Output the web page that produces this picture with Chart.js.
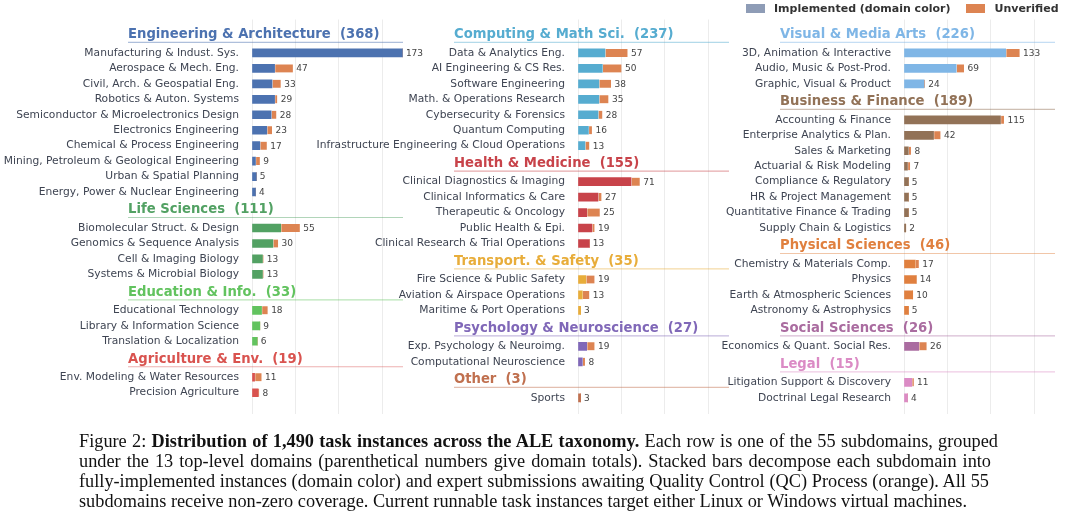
<!DOCTYPE html>
<html>
<head>
<meta charset="utf-8">
<script src="https://cdn.jsdelivr.net/npm/chart.js@4.4.1/dist/chart.umd.min.js"></script>
<style>
  body { margin: 0; background: #fff; width: 1080px; height: 520px; overflow: hidden; position: relative; font-family: 'DejaVu Sans', sans-serif; }
  canvas { position: absolute; top: 0; }
  #legend { position: absolute; top: 2px; left: 746px; font: bold 11px 'DejaVu Sans'; color: #333; white-space: nowrap; }
  #legend span.box { display: inline-block; width: 19px; height: 9px; vertical-align: -1px; margin-right: 9px; }
  #caption { position: absolute; left: 79px; top: 430.5px; font-family: 'Liberation Serif', serif; font-size: 18.3px; line-height: 20.3px; color: #111; }
  #caption div { white-space: nowrap; }
  #caption div.j { white-space: normal; text-align: justify; text-align-last: justify; }
</style>
</head>
<body>
<canvas id="col0" width="428" height="440"></canvas>
<canvas id="col1" width="448" height="440"></canvas>
<canvas id="col2" width="448" height="440"></canvas>
<div id="legend"><span class="box" style="background:#8e9cb6"></span>Implemented (domain color)<span class="box" style="background:#dd8452;margin-left:16px"></span>Unverified</div>
<div id="caption">
  <div class="j" style="width:919px">Figure 2: <b>Distribution of 1,490 task instances across the ALE taxonomy.</b> Each row is one of the 55 subdomains, grouped</div>
  <div class="j" style="width:912px">under the 13 top-level domains (parenthetical numbers give domain totals). Stacked bars decompose each subdomain into</div>
  <div class="j" style="width:910px">fully-implemented instances (domain color) and expert submissions awaiting Quality Control (QC) Process (orange). All 55</div>
  <div>subdomains receive non-zero coverage. Current runnable task instances target either Linux or Windows virtual machines.</div>
</div>
<script>
// top-level domains and their colours
var domains = ['Engineering & Architecture', 'Life Sciences', 'Education & Info.', 'Agriculture & Env.',
  'Computing & Math Sci.', 'Health & Medicine', 'Transport. & Safety', 'Psychology & Neuroscience', 'Other',
  'Visual & Media Arts', 'Business & Finance', 'Physical Sciences', 'Social Sciences', 'Legal'];
var domainColors = ['#4c72b0', '#52a163', '#62c35f', '#d9534f',
  '#56acd0', '#c8434a', '#e8ad3a', '#8068b8', '#c0704f',
  '#7fb6e6', '#927257', '#e0803f', '#aa6ca0', '#db8bc5'];
var columnDomains = [[0, 1, 2, 3], [4, 5, 6, 7, 8], [9, 10, 11, 12, 13]];

// subdomains
var subdomains = [
  'Manufacturing & Indust. Sys.', 'Aerospace & Mech. Eng.', 'Civil, Arch. & Geospatial Eng.', 'Robotics & Auton. Systems',
  'Semiconductor & Microelectronics Design', 'Electronics Engineering', 'Chemical & Process Engineering',
  'Mining, Petroleum & Geological Engineering', 'Urban & Spatial Planning', 'Energy, Power & Nuclear Engineering',
  'Biomolecular Struct. & Design', 'Genomics & Sequence Analysis', 'Cell & Imaging Biology', 'Systems & Microbial Biology',
  'Educational Technology', 'Library & Information Science', 'Translation & Localization',
  'Env. Modeling & Water Resources', 'Precision Agriculture',
  'Data & Analytics Eng.', 'AI Engineering & CS Res.', 'Software Engineering', 'Math. & Operations Research',
  'Cybersecurity & Forensics', 'Quantum Computing', 'Infrastructure Engineering & Cloud Operations',
  'Clinical Diagnostics & Imaging', 'Clinical Informatics & Care', 'Therapeutic & Oncology', 'Public Health & Epi.',
  'Clinical Research & Trial Operations',
  'Fire Science & Public Safety', 'Aviation & Airspace Operations', 'Maritime & Port Operations',
  'Exp. Psychology & Neuroimg.', 'Computational Neuroscience',
  'Sports',
  '3D, Animation & Interactive', 'Audio, Music & Post-Prod.', 'Graphic, Visual & Product',
  'Accounting & Finance', 'Enterprise Analytics & Plan.', 'Sales & Marketing', 'Actuarial & Risk Modeling',
  'Compliance & Regulatory', 'HR & Project Management', 'Quantitative Finance & Trading', 'Supply Chain & Logistics',
  'Chemistry & Materials Comp.', 'Physics', 'Earth & Atmospheric Sciences', 'Astronomy & Astrophysics',
  'Economics & Quant. Social Res.',
  'Litigation Support & Discovery', 'Doctrinal Legal Research'
];
var domainOf = [
  0, 0, 0, 0, 0, 0, 0, 0, 0, 0,
  1, 1, 1, 1,
  2, 2, 2,
  3, 3,
  4, 4, 4, 4, 4, 4, 4,
  5, 5, 5, 5, 5,
  6, 6, 6,
  7, 7,
  8,
  9, 9, 9,
  10, 10, 10, 10, 10, 10, 10, 10,
  11, 11, 11, 11,
  12,
  13, 13
];
var implemented = [
  173, 26, 23, 26, 22, 17, 9, 4, 5, 4,
  33, 24, 12, 12,
  11, 9, 6,
  3, 7,
  31, 28, 24, 24, 23, 12, 8,
  61, 23, 10, 16, 13,
  9, 5, 3,
  10, 5,
  3,
  117, 60, 23,
  111, 34, 5, 4, 5, 5, 5, 2,
  13, 14, 10, 5,
  17,
  9, 4
];
var unverified = [
  0, 21, 10, 3, 6, 6, 8, 5, 0, 0,
  22, 6, 1, 1,
  7, 0, 0,
  8, 1,
  26, 22, 14, 11, 5, 4, 5,
  10, 4, 15, 3, 0,
  10, 8, 0,
  9, 3,
  0,
  16, 9, 1,
  4, 8, 3, 3, 0, 0, 0, 0,
  4, 0, 0, 0,
  9,
  2, 0
];
var gridTicks = [0, 50, 100, 150];

var ORANGE = '#dd8452';
var GAP = 1.165;          // spacing (in row units) around a domain header
var COL_STEP = 326;       // horizontal distance between the three panels
var PLOT_LEFT = 252;      // left edge of first panel's bars
var HEAD_LEFT = 128;      // left edge of first panel's header
var CANVAS_LEFT = [0, 306, 632];
var LABEL_COLOR = '#3e4452';
Chart.defaults.font.family = 'DejaVu Sans';

function hexAlpha(hex, a) {
  var n = parseInt(hex.slice(1), 16);
  return 'rgba(' + (n >> 16) + ',' + ((n >> 8) & 255) + ',' + (n & 255) + ',' + a + ')';
}

function layoutColumn(col) {
  var headers = [], rows = [];
  var p = 0;
  columnDomains[col].forEach(function (d, k) {
    if (k > 0) p += GAP;
    headers.push({ d: d, pos: p });
    p += GAP;
    var first = true;
    subdomains.forEach(function (name, s) {
      if (domainOf[s] !== d) return;
      if (!first) p += 1;
      first = false;
      rows.push({ s: s, pos: p });
    });
  });
  return { headers: headers, rows: rows };
}

function makeChart(col) {
  var lay = layoutColumn(col);
  var rows = lay.rows, headers = lay.headers;
  var canvas = document.getElementById('col' + col);
  canvas.style.left = CANVAS_LEFT[col] + 'px';
  var yWidth = PLOT_LEFT + COL_STEP * col - CANVAS_LEFT[col];
  var headX = HEAD_LEFT + COL_STEP * col - CANVAS_LEFT[col];

  var headerPlugin = {
    id: 'headers' + col,
    afterDraw: function (chart) {
      var ctx = chart.ctx, y = chart.scales.y, area = chart.chartArea;
      ctx.save();
      headers.forEach(function (h) {
        var total = 0;
        subdomains.forEach(function (n, s) {
          if (domainOf[s] === h.d) total += implemented[s] + unverified[s];
        });
        var py = y.getPixelForValue(h.pos);
        var color = domainColors[h.d];
        ctx.font = 'bold 13.2px "DejaVu Sans"';
        ctx.fillStyle = color;
        ctx.textAlign = 'left';
        ctx.textBaseline = 'middle';
        ctx.fillText(domains[h.d] + '  (' + total + ')', headX, py);
        ctx.strokeStyle = hexAlpha(color, 0.45);
        ctx.lineWidth = 1.2;
        ctx.beginPath();
        ctx.moveTo(headX, py + 7.5);
        ctx.lineTo(area.left + 151, py + 7.5);
        ctx.stroke();
      });
      ctx.restore();
    }
  };

  var valuePlugin = {
    id: 'values' + col,
    afterDatasetsDraw: function (chart) {
      var ctx = chart.ctx, x = chart.scales.x, y = chart.scales.y;
      ctx.save();
      ctx.font = '9px "DejaVu Sans"';
      ctx.fillStyle = '#444';
      ctx.textAlign = 'left';
      ctx.textBaseline = 'middle';
      rows.forEach(function (r) {
        var total = implemented[r.s] + unverified[r.s];
        ctx.fillText(String(total), x.getPixelForValue(total) + 3.5, y.getPixelForValue(r.pos) + 0.5);
      });
      ctx.restore();
    }
  };

  return new Chart(canvas, {
    type: 'bar',
    data: {
      datasets: [{
        label: 'Implemented (domain color)',
        data: rows.map(function (r) { return { x: implemented[r.s], y: r.pos }; }),
        backgroundColor: rows.map(function (r) { return domainColors[domainOf[r.s]]; }),
        barThickness: 8,
        borderWidth: 0
      }, {
        label: 'Unverified',
        data: rows.map(function (r) { return { x: unverified[r.s], y: r.pos }; }),
        backgroundColor: ORANGE,
        borderColor: '#ffffff',
        borderWidth: { left: 1, right: 0, top: 0, bottom: 0 },
        borderSkipped: false,
        barThickness: 8
      }]
    },
    options: {
      indexAxis: 'y',
      responsive: false,
      animation: false,
      layout: { padding: { top: 19.5, bottom: 26.5, left: 0, right: canvas.width - yWidth - 173 } },
      plugins: { legend: { display: false }, tooltip: { enabled: false } },
      scales: {
        x: {
          type: 'linear', stacked: true, min: 0, max: 199, position: 'bottom',
          afterBuildTicks: function (s) {
            s.ticks = gridTicks.map(function (v) { return { value: v }; });
          },
          ticks: { display: false },
          grid: { color: '#ececec', lineWidth: 1, drawTicks: false },
          border: { display: false },
          afterFit: function (s) { s.height = 0; }
        },
        y: {
          type: 'linear', stacked: true, reverse: true, min: -1, max: 24.5,
          offset: false,
          afterBuildTicks: function (s) {
            s.ticks = rows.map(function (r) { return { value: r.pos }; });
          },
          ticks: {
            autoSkip: false, padding: 5, color: LABEL_COLOR,
            font: { size: 10.7 },
            callback: function (v, i) { return subdomains[rows[i].s]; }
          },
          grid: { display: false, offset: false },
          border: { display: false },
          afterFit: function (s) { s.width = yWidth; }
        }
      }
    },
    plugins: [headerPlugin, valuePlugin]
  });
}

makeChart(0);
makeChart(1);
makeChart(2);
</script>
</body>
</html>
